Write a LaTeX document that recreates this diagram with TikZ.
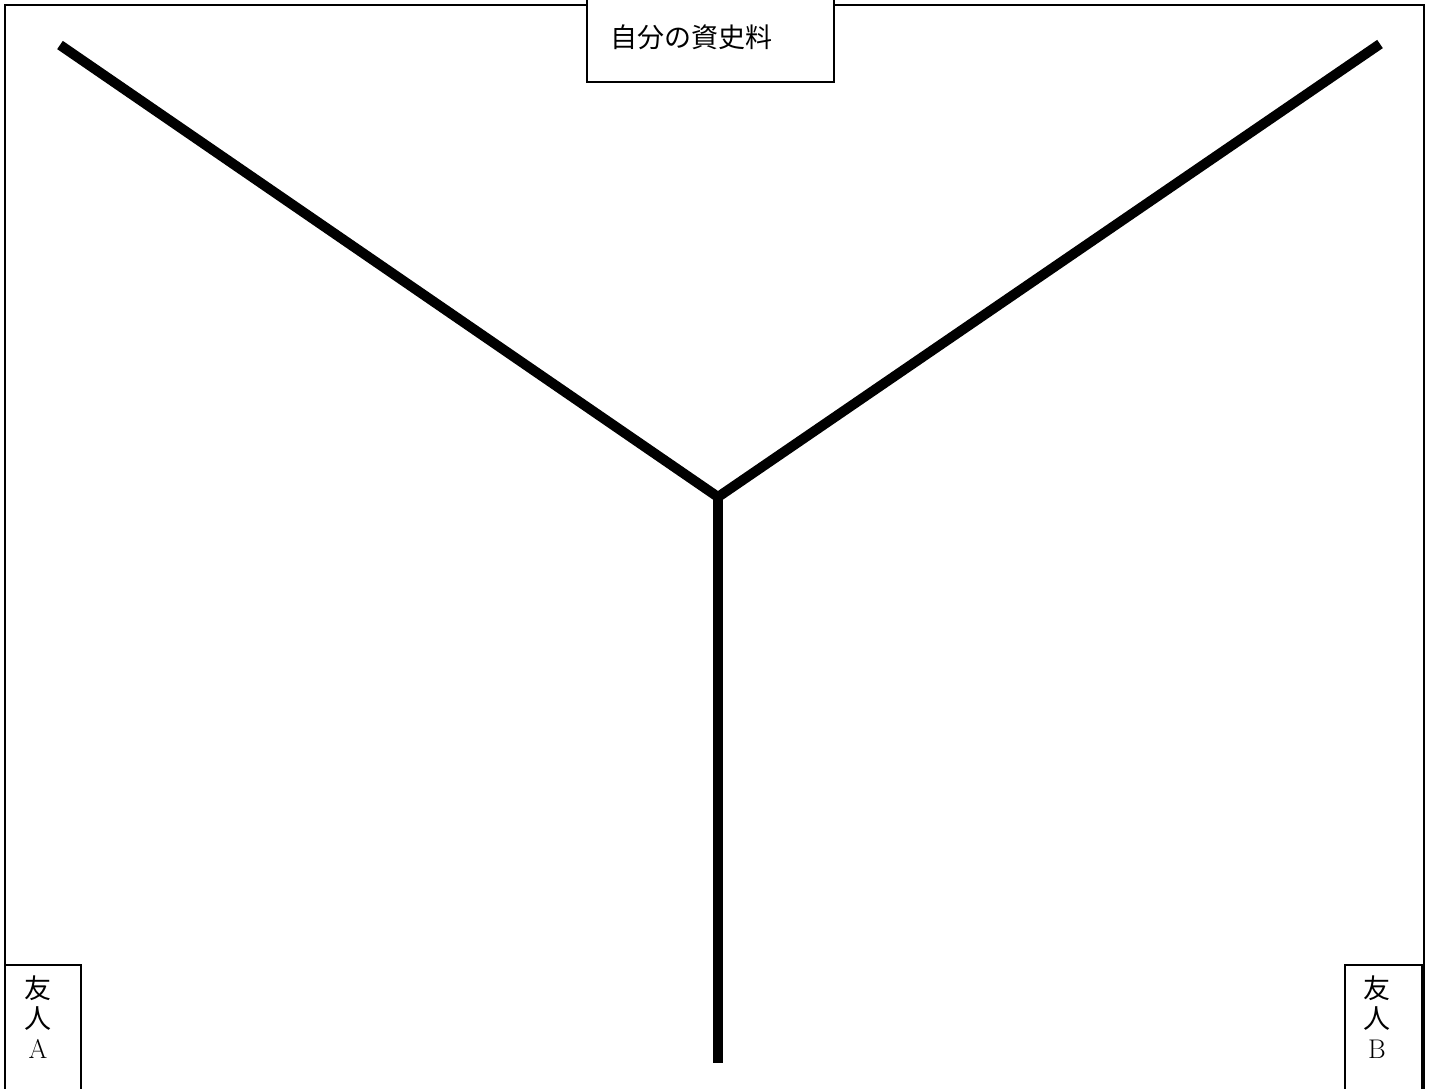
\documentclass[tikz,border=0pt]{standalone}
\usepackage{fontspec}
\newfontfamily\jp{Noto Sans CJK JP}
\begin{document}
\begin{tikzpicture}[x=1pt,y=-1pt,
  frame/.style={draw=black,line width=1.6pt},
  labelbox/.style={draw=black,fill=white,line width=1.2pt},
  branch/.style={draw=black,line width=10pt,line cap=butt},
  lbl/.style={font=\fontsize{27}{30}\selectfont\jp,inner sep=0pt,align=center}]
\useasboundingbox (0,0) rectangle (1432,1088);
% outer frame (open at bottom)
\draw[frame] (5,1092) -- (5,5) -- (1424,5) -- (1424,1092);
% branches
\coordinate (hub) at (718,497);
\coordinate (tl) at (60,45);
\coordinate (tr) at (1380,44);
\coordinate (bot) at (718,1063);
\draw[branch,line join=miter] (tl) -- (hub) -- (tr);
\draw[branch] (hub) -- (bot);
% top box
\draw[labelbox] (587,-2) rectangle (834,82);
\node[lbl,anchor=west] (self) at (610,37) {自分の資史料};
% bottom boxes
\draw[labelbox] (5,965) rectangle (81,1092);
\node[lbl,anchor=north] (fa) at (38,976) {友\\人\\{\rmfamily A}};
\draw[labelbox] (1345,965) rectangle (1422,1092);
\node[lbl,anchor=north] (fb) at (1377,976) {友\\人\\{\rmfamily B}};
\end{tikzpicture}
\end{document}
